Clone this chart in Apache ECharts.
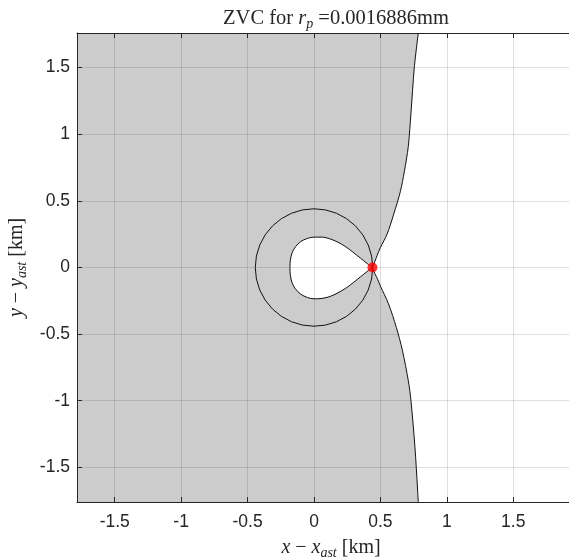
<!DOCTYPE html>
<html>
<head>
<meta charset="utf-8">
<script src="https://cdn.jsdelivr.net/npm/echarts@6/dist/echarts.min.js"></script>
<style>
  html, body { margin: 0; padding: 0; background: #ffffff; }
  #chart { width: 569px; height: 559px; }
</style>
</head>
<body>
<div id="chart"></div>
<script>
// Axis limits, km
const xLimits = [-1.784, 2.04];
const yLimits = [-1.76, 1.76];
const tickStep = 0.5;

// Outer zero-velocity branch, upper half (equilibrium point -> top edge)
const outerUpperX = [0.44, 0.458, 0.475, 0.50, 0.55, 0.60, 0.65, 0.68, 0.71, 0.73, 0.755, 0.785];
const outerUpperY = [0.00, 0.045, 0.09, 0.15, 0.25, 0.40, 0.57, 0.72, 0.91, 1.16, 1.50, 1.76];
// Outer zero-velocity branch, lower half (equilibrium point -> bottom edge)
const outerLowerX = [0.44, 0.458, 0.48, 0.50, 0.56, 0.62, 0.665, 0.71, 0.73, 0.76, 0.78, 0.785];
const outerLowerY = [0.00, -0.045, -0.09, -0.14, -0.27, -0.45, -0.62, -0.85, -1.00, -1.35, -1.67, -1.76];

// Inner lobe around the body, closed at the equilibrium point
const lobeX = [0.44, 0.40, 0.35, 0.30, 0.24, 0.18, 0.12, 0.06, 0.00, -0.05, -0.10, -0.14, -0.165, -0.178, -0.181,
               -0.178, -0.165, -0.14, -0.10, -0.05, 0.00, 0.06, 0.12, 0.18, 0.24, 0.30, 0.35, 0.40, 0.44];
const lobeY = [0.00, 0.03, 0.07, 0.11, 0.155, 0.19, 0.215, 0.228, 0.228, 0.218, 0.195, 0.155, 0.11, 0.055, 0.00,
               -0.058, -0.115, -0.16, -0.20, -0.225, -0.235, -0.232, -0.218, -0.19, -0.155, -0.11, -0.07, -0.03, 0.00];

// Reference circle around the body
const circleCenter = [0, 0];
const circleRadius = 0.442;

// Equilibrium point
const eqX = [0.44];
const eqY = [0.0];

const zip = (xs, ys) => xs.map((x, i) => [x, ys[i]]);

// Forbidden region: everything left of the outer branch
const forbiddenPts = [[xLimits[0], yLimits[1]]]
  .concat(zip(outerUpperX, outerUpperY).reverse())
  .concat(zip(outerLowerX, outerLowerY).slice(1))
  .concat([[xLimits[0], yLimits[0]]]);
const lobePts = zip(lobeX, lobeY);

const axisColor = '#262626';
const gridColor = 'rgba(38,38,38,0.15)';
const serif = '"Liberation Serif", "DejaVu Serif", serif';
const sans = '"Liberation Sans", Arial, sans-serif';

const mathRich = (size) => ({
  n: { fontFamily: serif, fontSize: size, fontWeight: 'normal', color: axisColor },
  i: { fontFamily: serif, fontSize: size, fontWeight: 'normal', fontStyle: 'italic', color: axisColor },
  s: { fontFamily: serif, fontSize: Math.round(size * 0.7), fontWeight: 'normal', fontStyle: 'italic', color: axisColor,
       padding: [Math.round(size * 0.5), 0, 0, 0] }
});

const tickFmt = (v) => {
  const k = v / tickStep;
  return Math.abs(k - Math.round(k)) < 1e-6 ? String(Math.round(k) * tickStep) : '';
};

function valueAxis(pos, labelled, extra) {
  const isX = pos === 'bottom' || pos === 'top';
  const lim = isX ? xLimits : yLimits;
  return Object.assign({
    type: 'value',
    position: pos,
    min: lim[0],
    max: lim[1],
    minInterval: tickStep,
    maxInterval: tickStep,
    z: 3,
    axisLine: { show: true, onZero: false, lineStyle: { color: axisColor, width: 1 } },
    axisTick: { show: true, inside: true, length: 5, lineStyle: { color: axisColor, width: 1 } },
    axisLabel: labelled ? {
      show: true, formatter: tickFmt, color: axisColor, fontFamily: sans, fontSize: 17.5,
      margin: isX ? 11 : 7, showMinLabel: true, showMaxLabel: true, hideOverlap: false
    } : { show: false },
    splitLine: { show: labelled, lineStyle: { color: gridColor, width: 1 } }
  }, extra || {});
}

const chart = echarts.init(document.getElementById('chart'), null, { renderer: 'canvas' });

chart.setOption({
  animation: false,
  backgroundColor: '#ffffff',
  title: {
    text: '{n|ZVC for }{i|r}{s|p}{n| =0.0016886mm}',
    left: 331,
    top: 2,
    textAlign: 'center',
    textStyle: { fontWeight: 'normal', rich: mathRich(20.5) }
  },
  grid: { left: 77, right: -16, top: 33, bottom: 57, outerBoundsMode: 'none', containLabel: false },
  xAxis: [
    valueAxis('bottom', true, {
      name: '{i|x}{n| − }{i|x}{s|ast}{n| [km]}',
      nameLocation: 'middle',
      nameGap: 34,
      nameTextStyle: { rich: mathRich(20) }
    }),
    valueAxis('top', false)
  ],
  yAxis: [
    valueAxis('left', true, {
      name: '{i|y}{n| − }{i|y}{s|ast}{n| [km]}',
      nameLocation: 'middle',
      nameGap: 44,
      nameRotate: 90,
      nameTextStyle: { rich: mathRich(20) }
    }),
    valueAxis('right', false)
  ],
  series: [
    {
      type: 'custom',
      name: 'forbidden',
      z: 1,
      silent: true,
      data: [[0, 0]],
      renderItem: (params, api) => ({
        type: 'group',
        children: [
          { type: 'polygon', shape: { points: forbiddenPts.map(p => api.coord(p)) }, style: { fill: '#cccccc' } },
          { type: 'polygon', shape: { points: lobePts.map(p => api.coord(p)) }, style: { fill: '#ffffff' } }
        ]
      })
    },
    {
      type: 'custom',
      name: 'circle',
      z: 4,
      silent: true,
      data: [circleCenter],
      renderItem: (params, api) => {
        const c = api.coord(circleCenter);
        const r = api.size([circleRadius, circleRadius])[0];
        return { type: 'circle', shape: { cx: c[0], cy: c[1], r: r }, style: { fill: 'none', stroke: '#111111', lineWidth: 1 } };
      }
    },
    {
      type: 'line', name: 'outerUpper', z: 4, silent: true, showSymbol: false, smooth: 0.3,
      data: zip(outerUpperX, outerUpperY), lineStyle: { color: '#111111', width: 1 }
    },
    {
      type: 'line', name: 'outerLower', z: 4, silent: true, showSymbol: false, smooth: 0.3,
      data: zip(outerLowerX, outerLowerY), lineStyle: { color: '#111111', width: 1 }
    },
    {
      type: 'line', name: 'lobe', z: 4, silent: true, showSymbol: false, smooth: 0.3,
      data: lobePts, lineStyle: { color: '#111111', width: 1 }
    },
    {
      type: 'scatter', name: 'equilibrium', z: 5, silent: true,
      symbol: 'circle', symbolSize: 10,
      data: zip(eqX, eqY), itemStyle: { color: '#ff0000' }
    }
  ]
});
</script>
</body>
</html>
